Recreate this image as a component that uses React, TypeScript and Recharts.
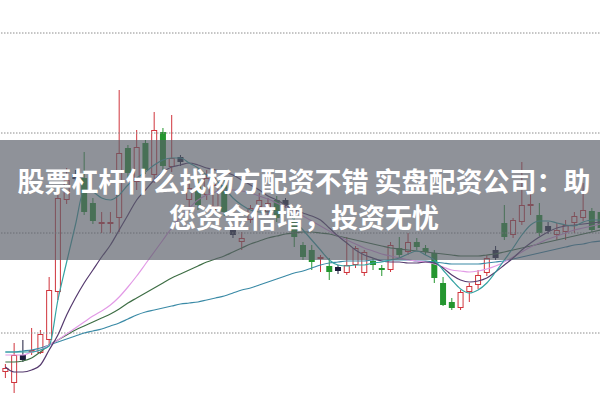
import React from "react";
import { ComposedChart, Bar, Line, XAxis, YAxis, ReferenceLine } from "recharts";

// daily candles (price scale only, no labels shown)
const opens = [6.28, 6.17, 6.45, 6.48, 6.47, 6.6, 7.08, 8.0, 8.25, 8.22, 7.97, 7.76, 7.76, 7.82, 8.52, 8.18, 8.57, 8.25, 8.68, 8.33, 8.43, 8.0, 8.18, 8.05, 7.93, 8.15, 7.7, 7.58, 7.8, 7.93, 7.88, 8.0, 8.0, 7.78, 7.55, 7.5, 7.41, 7.34, 7.33, 7.27, 7.35, 7.27, 7.39, 7.32, 7.3, 7.52, 7.48, 7.58, 7.52, 7.47, 7.17, 6.98, 6.92, 7.08, 7.15, 7.27, 7.5, 7.77, 7.65, 7.78, 7.94, 7.85, 7.74, 7.65, 7.68, 7.77, 7.82, 7.89, 7.88];
const closes = [6.32, 6.45, 6.4, 6.5, 6.66, 7.1, 8.02, 8.2, 8.21, 7.88, 7.79, 7.78, 7.78, 8.47, 8.27, 8.53, 8.3, 8.7, 8.34, 8.42, 8.38, 8.12, 7.95, 8.22, 8.15, 7.88, 7.65, 7.62, 7.92, 8.0, 7.97, 7.82, 7.95, 7.63, 7.43, 7.38, 7.43, 7.28, 7.29, 7.35, 7.52, 7.48, 7.35, 7.3, 7.55, 7.45, 7.58, 7.53, 7.48, 7.22, 6.95, 6.92, 7.08, 7.14, 7.25, 7.42, 7.42, 7.63, 7.8, 7.95, 7.96, 7.67, 7.69, 7.7, 7.75, 7.84, 7.9, 7.7, 7.72];
const highs = [6.36, 6.57, 6.6, 6.72, 6.7, 7.23, 8.12, 8.32, 8.3, 8.48, 8.02, 7.88, 7.88, 9.1, 8.55, 8.7, 8.6, 8.88, 8.72, 8.85, 8.45, 8.2, 8.22, 8.3, 8.22, 8.2, 7.72, 7.68, 7.95, 8.07, 8.02, 8.04, 8.02, 7.82, 7.58, 7.55, 7.45, 7.42, 7.35, 7.63, 7.54, 7.5, 7.42, 7.35, 7.58, 7.63, 7.67, 7.62, 7.55, 7.5, 7.23, 7.02, 7.1, 7.17, 7.3, 7.45, 7.54, 7.95, 7.82, 8.38, 8.1, 7.97, 7.78, 7.77, 7.8, 7.88, 8.17, 7.92, 7.92];
const lows = [6.22, 6.07, 6.38, 6.45, 6.46, 6.55, 7.0, 7.96, 8.16, 7.85, 7.76, 7.67, 7.67, 7.68, 8.22, 8.1, 8.26, 8.17, 8.3, 8.28, 8.34, 7.92, 7.9, 8.0, 7.9, 7.84, 7.62, 7.5, 7.77, 7.9, 7.84, 7.78, 7.92, 7.53, 7.4, 7.3, 7.28, 7.2, 7.26, 7.25, 7.32, 7.24, 7.3, 7.24, 7.28, 7.42, 7.45, 7.5, 7.45, 7.17, 6.94, 6.9, 6.9, 6.98, 7.11, 7.24, 7.4, 7.6, 7.62, 7.75, 7.85, 7.64, 7.66, 7.6, 7.6, 7.67, 7.79, 7.68, 7.68];
// days drawn as dark boxes in the source
const flatDays = [2, 8, 20, 26, 32, 38, 56, 62];

// moving averages
const ma5 = [6.48, 6.48, 6.48, 6.48, 6.5, 6.54, 7.0, 7.38, 7.75, 8.1, 8.08, 8.02, 8.0, 8.05, 8.15, 8.22, 8.28, 8.35, 8.4, 8.42, 8.42, 8.37, 8.32, 8.25, 8.2, 8.12, 8.02, 7.95, 7.9, 7.88, 7.88, 7.88, 7.87, 7.8, 7.7, 7.6, 7.5, 7.4, 7.35, 7.34, 7.35, 7.35, 7.37, 7.38, 7.4, 7.42, 7.46, 7.49, 7.45, 7.4, 7.3, 7.2, 7.11, 7.07, 7.1, 7.17, 7.28, 7.4, 7.52, 7.65, 7.75, 7.79, 7.79, 7.77, 7.75, 7.74, 7.78, 7.8, 7.8];
const ma10 = [6.33, 6.28, 6.28, 6.3, 6.35, 6.5, 6.65, 6.85, 7.02, 7.17, 7.3, 7.43, 7.55, 7.7, 7.85, 8.0, 8.1, 8.2, 8.28, 8.33, 8.35, 8.37, 8.35, 8.32, 8.3, 8.28, 8.25, 8.2, 8.15, 8.1, 8.04, 8.0, 7.95, 7.9, 7.87, 7.84, 7.8, 7.72, 7.64, 7.57, 7.5, 7.45, 7.42, 7.39, 7.38, 7.38, 7.37, 7.37, 7.38, 7.37, 7.32, 7.25, 7.2, 7.18, 7.19, 7.22, 7.28, 7.35, 7.42, 7.5, 7.57, 7.63, 7.68, 7.72, 7.74, 7.75, 7.76, 7.77, 7.78];
const ma20 = [6.45, 6.45, 6.45, 6.48, 6.5, 6.55, 6.6, 6.66, 6.72, 6.78, 6.84, 6.89, 6.95, 7.03, 7.13, 7.24, 7.36, 7.48, 7.6, 7.72, 7.83, 7.92, 8.0, 8.05, 8.08, 8.1, 8.1, 8.09, 8.07, 8.04, 8.01, 7.97, 7.93, 7.89, 7.84, 7.79, 7.74, 7.69, 7.64, 7.6, 7.56, 7.52, 7.49, 7.46, 7.44, 7.42, 7.4, 7.39, 7.38, 7.36, 7.33, 7.3, 7.29, 7.28, 7.29, 7.31, 7.34, 7.38, 7.43, 7.48, 7.53, 7.57, 7.61, 7.64, 7.67, 7.7, 7.72, 7.74, 7.76];
const ma30 = [6.38, 6.38, 6.39, 6.42, 6.48, 6.55, 6.6, 6.65, 6.7, 6.74, 6.78, 6.82, 6.86, 6.91, 6.97, 7.02, 7.07, 7.12, 7.17, 7.22, 7.26, 7.3, 7.34, 7.38, 7.41, 7.44, 7.48, 7.52, 7.56, 7.59, 7.62, 7.64, 7.66, 7.67, 7.68, 7.68, 7.67, 7.66, 7.64, 7.62, 7.6, 7.58, 7.56, 7.54, 7.52, 7.51, 7.5, 7.49, 7.48, 7.47, 7.46, 7.45, 7.44, 7.44, 7.44, 7.45, 7.46, 7.48, 7.5, 7.52, 7.54, 7.56, 7.58, 7.6, 7.62, 7.64, 7.66, 7.68, 7.7];
const ma60 = [6.48, 6.48, 6.49, 6.5, 6.52, 6.55, 6.58, 6.61, 6.64, 6.67, 6.69, 6.71, 6.74, 6.77, 6.81, 6.85, 6.88, 6.9, 6.92, 6.94, 6.96, 6.97, 6.98, 7.0, 7.02, 7.04, 7.07, 7.1, 7.12, 7.15, 7.18, 7.21, 7.24, 7.27, 7.29, 7.32, 7.35, 7.37, 7.38, 7.39, 7.39, 7.39, 7.4, 7.4, 7.4, 7.4, 7.4, 7.39, 7.39, 7.38, 7.37, 7.36, 7.36, 7.36, 7.36, 7.37, 7.38, 7.39, 7.41, 7.43, 7.45, 7.47, 7.49, 7.51, 7.53, 7.55, 7.56, 7.58, 7.59];

const gridLevels = [9.67, 8.67, 7.67, 6.67];

const titleLines = ["股票杠杆什么找杨方配资不错 实盘配资公司：助", "您资金倍增，投资无忧"];

const data = opens.map((o, i) => ({
  i,
  open: o,
  close: closes[i],
  high: highs[i],
  low: lows[i],
  range: [lows[i], highs[i]],
  flat: flatDays.includes(i),
  ma5: ma5[i],
  ma10: ma10[i],
  ma20: ma20[i],
  ma30: ma30[i],
  ma60: ma60[i],
}));

const RED = "#d0343c";
const GREEN = "#24962f";
const DARK = "#1c1c3c";

const Candle = (props: any) => {
  const { x, y, width, height, payload } = props;
  if (payload == null || x == null) return null;
  const top = Math.min(y, y + height);
  const h = Math.abs(height);
  const span = payload.high - payload.low;
  const py = (v: number) => top + ((payload.high - v) / span) * h;
  const cx = x + width / 2;
  const bw = 6;
  const yo = py(payload.open);
  const yc = py(payload.close);
  const bTop = Math.min(yo, yc);
  const bBot = Math.max(yo, yc);
  const bh = Math.max(bBot - bTop, 1);
  const up = payload.close >= payload.open;
  const col = payload.flat ? DARK : up ? RED : GREEN;
  return (
    <g>
      <line x1={cx} x2={cx} y1={top} y2={bTop} stroke={col} strokeWidth={1} />
      <line x1={cx} x2={cx} y1={bTop + bh} y2={top + h} stroke={col} strokeWidth={1} />
      {up && !payload.flat ? (
        <rect x={cx - bw / 2 + 0.5} y={bTop + 0.5} width={bw - 1} height={Math.max(bh - 1, 0.5)} fill="none" stroke={col} strokeWidth={1} />
      ) : (
        <rect x={cx - bw / 2} y={bTop} width={bw} height={bh} fill={col} />
      )}
    </g>
  );
};

export default function App() {
  return (
    <div style={{ position: "absolute", left: 0, top: 0, width: 600, height: 400, overflow: "hidden", background: "#fff" }}>
      <ComposedChart width={605} height={400} data={data} margin={{ top: 0, right: 0, bottom: 0, left: 1 }}>
        <XAxis dataKey="i" hide />
        <YAxis hide domain={[6, 10]} allowDataOverflow />
        {gridLevels.map((g) => (
          <ReferenceLine key={g} y={g} stroke="#8c8c8c" strokeDasharray="1.5 1.5" />
        ))}
        <Bar dataKey="range" shape={<Candle />} isAnimationActive={false} />
        <Line type="monotone" dataKey="ma60" stroke="#3a8aa6" strokeWidth={1.2} dot={false} isAnimationActive={false} />
        <Line type="monotone" dataKey="ma30" stroke="#3e6e45" strokeWidth={1.2} dot={false} isAnimationActive={false} />
        <Line type="monotone" dataKey="ma20" stroke="#e29ae6" strokeWidth={1.2} dot={false} isAnimationActive={false} />
        <Line type="monotone" dataKey="ma10" stroke="#553a6e" strokeWidth={1.2} dot={false} isAnimationActive={false} />
        <Line type="monotone" dataKey="ma5" stroke="#35a3a3" strokeWidth={1.2} dot={false} isAnimationActive={false} />
      </ComposedChart>
      <div
        style={{
          position: "absolute",
          left: 0,
          top: 140,
          width: 600,
          height: 120,
          background: "rgba(90, 95, 105, 0.68)",
        }}
      />
      <div
        style={{
          position: "absolute",
          left: 0,
          top: 163,
          width: 608,
          textAlign: "center",
          color: "#fff",
          fontFamily: "'Noto Sans CJK SC', sans-serif",
          fontWeight: 700,
          fontSize: 27,
          lineHeight: "36px",
          whiteSpace: "nowrap",
        }}
      >
        {titleLines.map((t) => (
          <div key={t}>{t}</div>
        ))}
      </div>
    </div>
  );
}
